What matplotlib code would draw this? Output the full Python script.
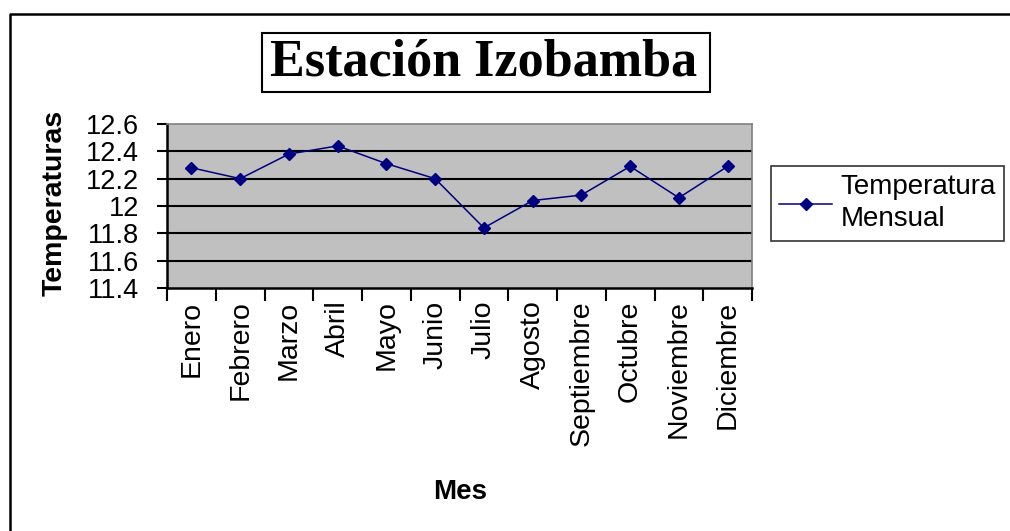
import matplotlib
matplotlib.use('Agg')
import matplotlib.pyplot as plt
from matplotlib.patches import Rectangle
from matplotlib.lines import Line2D

# monthly mean temperature, Izobamba station
meses = ['Enero', 'Febrero', 'Marzo', 'Abril', 'Mayo', 'Junio', 'Julio',
         'Agosto', 'Septiembre', 'Octubre', 'Noviembre', 'Diciembre']
temperatura = [12.28, 12.20, 12.38, 12.44, 12.31, 12.20, 11.84,
               12.04, 12.08, 12.29, 12.06, 12.29]
yticks = [11.4, 11.6, 11.8, 12.0, 12.2, 12.4, 12.6]
ytick_labels = ['11.4', '11.6', '11.8', '12', '12.2', '12.4', '12.6']

plt.rcParams['font.family'] = ['Liberation Sans', 'DejaVu Sans']

W, H = 1010, 531
fig = plt.figure(figsize=(W / 100, H / 100), dpi=100)

# outer chart frame: only left and top edges are visible in the screenshot
fig.lines.append(Line2D([10 / W, 10 / W, 1.0], [0, 1 - 14 / H, 1 - 14 / H],
                        transform=fig.transFigure, color='black', linewidth=1.8))

ax = fig.add_axes([167 / W, 1 - 288 / H, 585 / W, 164 / H])
ax.set_facecolor('#C0C0C0')

x = list(range(len(meses)))
ax.plot(x, temperatura, color='#000080', linewidth=1.1, marker='D',
        markersize=6.5, markerfacecolor='#000080', markeredgecolor='#000080',
        label='Temperatura\nMensual', zorder=3)

ax.set_xlim(-0.5, len(meses) - 0.5)
ax.set_ylim(11.4, 12.6)

# horizontal gridlines
for v in yticks[1:-1]:
    ax.axhline(v, color='black', linewidth=1.5, zorder=1)

ax.set_yticks(yticks)
ax.set_yticklabels(ytick_labels, fontsize=19.5)
ax.tick_params(axis='y', length=7, width=1.5, pad=13, direction='out')

# category ticks at the borders, labels at the centers
ax.set_xticks([i - 0.5 for i in range(len(meses) + 1)])
ax.set_xticklabels([])
ax.set_xticks(x, minor=True)
ax.set_xticklabels(meses, minor=True, rotation=90, fontsize=20.5, va='top')
ax.tick_params(axis='x', which='major', length=9, width=1.5, direction='out')
ax.tick_params(axis='x', which='minor', length=0, pad=9)

ax.spines['left'].set_color('black')
ax.spines['left'].set_linewidth(1.8)
ax.spines['bottom'].set_color('black')
ax.spines['bottom'].set_linewidth(1.8)
ax.spines['top'].set_color('#808080')
ax.spines['right'].set_color('#808080')
ax.spines['top'].set_linewidth(1.2)
ax.spines['right'].set_linewidth(1.2)

fig.text(55 / W, 1 - 203 / H, 'Temperaturas', rotation=90, fontsize=20.5,
         fontweight='bold', ha='center', va='center')
fig.text(460 / W, 1 - 492 / H, 'Mes', fontsize=20, fontweight='bold',
         ha='center', va='center')

# title with its box
fig.patches.append(Rectangle((262 / W, 1 - 92 / H), 448 / W, 59 / H,
                             transform=fig.transFigure, facecolor='white',
                             edgecolor='black', linewidth=1.5))
fig.text(484 / W, 1 - 63 / H, 'Estación Izobamba', family='Liberation Serif',
         fontsize=37.5, fontweight='bold', ha='center', va='center')

leg = ax.legend(loc='upper left', bbox_to_anchor=(771 / W, 1 - 166 / H),
                bbox_transform=fig.transFigure, fontsize=20, frameon=True,
                fancybox=False, handlelength=1.9, handletextpad=0.3,
                borderpad=0.3, borderaxespad=0)
leg.get_frame().set_edgecolor('black')
leg.get_frame().set_linewidth(1.2)
for t in leg.get_texts():
    t.set_linespacing(1.3)

fig.savefig('out.png', dpi=100)
